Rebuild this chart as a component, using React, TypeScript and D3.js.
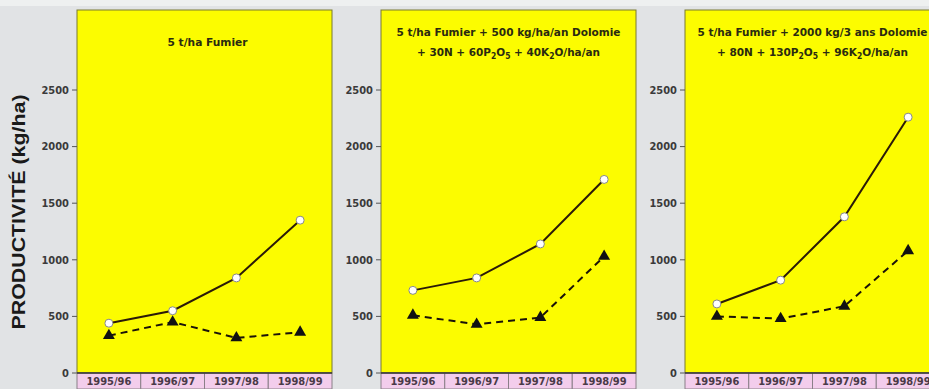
import React from "react";
import * as d3 from "d3";

const categories = ["1995/96", "1996/97", "1997/98", "1998/99"];
const yTicks = [0, 500, 1000, 1500, 2000, 2500];
const yAxisLabel = "PRODUCTIVITÉ (kg/ha)";

const fumierSeries1 = [440, 550, 840, 1350];
const temoinSeries1 = [330, 450, 310, 360];
const fumierSeries2 = [730, 840, 1140, 1710];
const temoinSeries2 = [510, 430, 490, 1030];
const fumierSeries3 = [610, 820, 1380, 2260];
const temoinSeries3 = [500, 480, 590, 1080];

type Seg = { t: string; sub?: boolean };
const title1: Seg[][] = [[{ t: "5 t/ha Fumier" }]];
const title2: Seg[][] = [
  [{ t: "5 t/ha Fumier + 500 kg/ha/an Dolomie" }],
  [{ t: "+ 30N + 60P" }, { t: "2", sub: true }, { t: "O" }, { t: "5", sub: true }, { t: " + 40K" }, { t: "2", sub: true }, { t: "O/ha/an" }],
];
const title3: Seg[][] = [
  [{ t: "5 t/ha Fumier + 2000 kg/3 ans Dolomie" }],
  [{ t: "+ 80N + 130P" }, { t: "2", sub: true }, { t: "O" }, { t: "5", sub: true }, { t: " + 96K" }, { t: "2", sub: true }, { t: "O/ha/an" }],
];

const panels = [
  { x0: 77, title: title1, titleWidths: [80], circles: fumierSeries1, triangles: temoinSeries1 },
  { x0: 381, title: title2, titleWidths: [224, 183], circles: fumierSeries2, triangles: temoinSeries2 },
  { x0: 685, title: title3, titleWidths: [230, 191], circles: fumierSeries3, triangles: temoinSeries3 },
];

const W = 929;
const H = 389;
const PW = 255;
const TOP = 10;
const BASE = 373;
const narrow = "'DejaVu Sans Condensed', 'DejaVu Sans', 'Liberation Sans Narrow', sans-serif";

export default function App() {
  const y = d3.scaleLinear().domain([0, 2500]).range([BASE, 90]);
  const tri = d3.symbol().type(d3.symbolTriangle).size(62)();

  return (
    <svg width={W} height={H} style={{ position: "absolute", left: 0, top: 0 }}>
      <rect x={0} y={0} width={W} height={H} fill="#e1e3e5" />
      <rect x={0} y={0} width={W} height={6} fill="#eef0f0" />
      <text
        transform={`translate(25,${212}) rotate(-90)`}
        textAnchor="middle"
        fontFamily="'Liberation Sans', Arial, sans-serif"
        fontWeight="bold"
        fontSize={19}
        fill="#1a1a1a"
        textLength={235}
        lengthAdjust="spacingAndGlyphs"
      >
        {yAxisLabel}
      </text>
      {panels.map((p, pi) => {
        const x = d3.scaleBand().domain(categories).range([p.x0, p.x0 + PW]);
        const cx = (c: string) => (x(c) as number) + x.bandwidth() / 2;
        const lineC = d3.line<number>().x((_, i) => cx(categories[i])).y((v) => y(v));
        return (
          <g key={pi}>
            <rect x={p.x0} y={TOP} width={PW} height={BASE - TOP} fill="#fcfc00" stroke="#7a7a30" strokeWidth={1} />
            {yTicks.map((t) => (
              <g key={t}>
                <line x1={p.x0 - 5} x2={p.x0} y1={y(t)} y2={y(t)} stroke="#555" strokeWidth={1} />
                <text
                  x={p.x0 - 8}
                  y={y(t)}
                  dy="0.35em"
                  textAnchor="end"
                  fontFamily={narrow}
                  fontStretch="condensed"
                  fontWeight="bold"
                  fontSize={11}
                  fill="#3a3a3a"
                >
                  {t}
                </text>
              </g>
            ))}
            {categories.map((c) => (
              <g key={c}>
                <rect x={x(c)} y={BASE} width={x.bandwidth()} height={H - BASE} fill="#f3cdec" stroke="#8a8088" strokeWidth={1} />
                <text
                  x={cx(c)}
                  y={385}
                  textAnchor="middle"
                  fontFamily={narrow}
                  fontStretch="condensed"
                  fontWeight="bold"
                  fontSize={11}
                  fill="#4a3a48"
                >
                  {c}
                </text>
              </g>
            ))}
            <line x1={p.x0} x2={p.x0 + PW} y1={BASE} y2={BASE} stroke="#333" strokeWidth={1.5} />
            {p.title.map((line, li) => (
              <text
                key={li}
                x={p.x0 + PW / 2 + (pi === 0 ? 3 : 0)}
                y={p.title.length === 1 ? 46 : 36 + li * 20}
                textAnchor="middle"
                fontFamily={narrow}
                fontStretch="condensed"
                fontWeight="bold"
                fontSize={11}
                fill="#2a2a10"
                textLength={p.titleWidths[li]}
                lengthAdjust="spacingAndGlyphs"
              >
                {line.map((s, si) =>
                  s.sub ? (
                    <tspan key={si} fontSize={8} dy={3}>
                      {s.t}
                    </tspan>
                  ) : (
                    <tspan key={si} dy={si > 0 && line[si - 1].sub ? -3 : 0}>
                      {s.t}
                    </tspan>
                  )
                )}
              </text>
            ))}
            <path d={lineC(p.triangles) || ""} fill="none" stroke="#1a1208" strokeWidth={2} strokeDasharray="7,5" />
            <path d={lineC(p.circles) || ""} fill="none" stroke="#2a1a08" strokeWidth={2} />
            {p.triangles.map((v, i) => (
              <path key={"t" + i} d={tri || ""} transform={`translate(${cx(categories[i])},${y(v)})`} fill="#111" />
            ))}
            {p.circles.map((v, i) => (
              <circle key={"c" + i} cx={cx(categories[i])} cy={y(v)} r={4} fill="#fff" stroke="#888" strokeWidth={1} />
            ))}
          </g>
        );
      })}
    </svg>
  );
}
